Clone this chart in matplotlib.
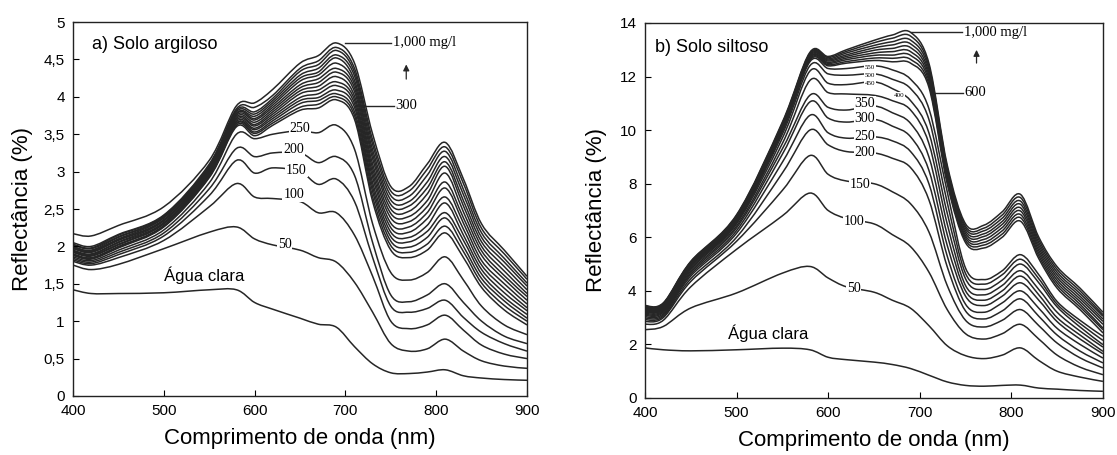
import matplotlib
matplotlib.use("Agg")
import matplotlib.pyplot as plt
from matplotlib.path import Path
from matplotlib.patches import PathPatch
from matplotlib.ticker import FuncFormatter

plt.rcParams["font.family"] = ["Liberation Sans", "DejaVu Sans"]

# comprimento de onda (nm), comum aos dois gráficos
wavelength = [400, 420, 450, 500, 550, 580, 600, 620, 650, 670, 690,
              710, 730, 750, 770, 790, 810, 830, 850, 875, 900]

# ---- a) solo argiloso: reflectância (%) por concentração (mg/l)
arg_agua = [1.42, 1.37, 1.37, 1.38, 1.42, 1.42, 1.25, 1.16, 1.04, 0.96, 0.92,
            0.66, 0.43, 0.31, 0.30, 0.32, 0.35, 0.27, 0.24, 0.22, 0.21]
arg_50 = [1.75, 1.69, 1.76, 1.97, 2.19, 2.26, 2.10, 2.02, 1.95, 1.85, 1.79,
          1.52, 1.12, 0.70, 0.60, 0.63, 0.76, 0.60, 0.47, 0.40, 0.37]
arg_100 = [1.80, 1.75, 1.85, 2.08, 2.53, 2.84, 2.66, 2.64, 2.60, 2.45, 2.45,
           2.15, 1.60, 1.00, 0.90, 0.95, 1.08, 0.88, 0.68, 0.56, 0.50]
arg_150 = [1.82, 1.77, 1.89, 2.14, 2.68, 3.15, 2.98, 3.05, 3.00, 2.83, 2.90,
           2.60, 1.85, 1.20, 1.12, 1.17, 1.28, 1.05, 0.85, 0.70, 0.60]
arg_200 = [1.84, 1.79, 1.92, 2.18, 2.77, 3.31, 3.20, 3.25, 3.25, 3.12, 3.20,
           2.95, 2.05, 1.35, 1.26, 1.35, 1.50, 1.25, 1.00, 0.80, 0.70]
arg_250 = [1.86, 1.81, 1.95, 2.22, 2.85, 3.50, 3.44, 3.50, 3.55, 3.52, 3.62,
           3.30, 2.30, 1.65, 1.55, 1.65, 1.86, 1.55, 1.20, 0.95, 0.82]
arg_300 = [1.88, 1.83, 1.98, 2.26, 2.92, 3.60, 3.48, 3.62, 3.82, 3.85, 3.96,
           3.70, 2.60, 1.95, 1.85, 1.95, 2.18, 1.85, 1.45, 1.15, 0.95]
arg_350 = [1.89, 1.84, 1.99, 2.27, 2.93, 3.62, 3.51, 3.65, 3.86, 3.90, 4.00,
           3.75, 2.66, 2.01, 1.92, 2.03, 2.27, 1.93, 1.51, 1.21, 1.00]
arg_400 = [1.90, 1.85, 2.00, 2.28, 2.95, 3.64, 3.53, 3.68, 3.91, 3.95, 4.04,
           3.80, 2.73, 2.07, 1.99, 2.12, 2.38, 2.00, 1.57, 1.27, 1.04]
arg_450 = [1.92, 1.87, 2.02, 2.30, 2.96, 3.65, 3.56, 3.71, 3.95, 3.99, 4.09,
           3.86, 2.79, 2.13, 2.06, 2.20, 2.45, 2.08, 1.63, 1.32, 1.09]
arg_500 = [1.93, 1.88, 2.03, 2.31, 2.97, 3.67, 3.58, 3.74, 3.99, 4.04, 4.15,
           3.91, 2.85, 2.19, 2.12, 2.28, 2.58, 2.15, 1.69, 1.38, 1.14]
arg_550 = [1.94, 1.89, 2.05, 2.32, 2.99, 3.69, 3.61, 3.77, 4.04, 4.09, 4.20,
           3.96, 2.92, 2.25, 2.19, 2.37, 2.66, 2.23, 1.75, 1.44, 1.18]
arg_600 = [1.95, 1.90, 2.06, 2.34, 3.00, 3.71, 3.63, 3.80, 4.08, 4.14, 4.27,
           4.01, 2.98, 2.31, 2.26, 2.45, 2.78, 2.31, 1.81, 1.50, 1.23]
arg_650 = [1.97, 1.92, 2.08, 2.35, 3.02, 3.73, 3.66, 3.83, 4.12, 4.19, 4.33,
           4.07, 3.04, 2.38, 2.33, 2.53, 2.86, 2.38, 1.88, 1.56, 1.28]
arg_700 = [1.98, 1.93, 2.09, 2.36, 3.03, 3.75, 3.69, 3.86, 4.16, 4.24, 4.38,
           4.12, 3.10, 2.44, 2.40, 2.61, 2.98, 2.46, 1.94, 1.61, 1.33]
arg_750 = [1.99, 1.94, 2.10, 2.38, 3.04, 3.77, 3.71, 3.89, 4.21, 4.29, 4.45,
           4.17, 3.17, 2.50, 2.47, 2.70, 3.07, 2.54, 2.00, 1.67, 1.37]
arg_800 = [2.00, 1.95, 2.12, 2.39, 3.06, 3.78, 3.74, 3.92, 4.25, 4.33, 4.52,
           4.22, 3.23, 2.56, 2.54, 2.78, 3.13, 2.61, 2.06, 1.73, 1.42]
arg_850 = [2.02, 1.97, 2.13, 2.40, 3.07, 3.80, 3.77, 3.95, 4.29, 4.38, 4.56,
           4.28, 3.29, 2.62, 2.60, 2.86, 3.20, 2.69, 2.12, 1.79, 1.47]
arg_900 = [2.03, 1.98, 2.15, 2.41, 3.08, 3.82, 3.80, 3.98, 4.34, 4.43, 4.62,
           4.33, 3.36, 2.68, 2.67, 2.95, 3.27, 2.76, 2.18, 1.84, 1.51]
arg_950 = [2.05, 2.00, 2.16, 2.42, 3.10, 3.84, 3.86, 4.02, 4.38, 4.48, 4.66,
           4.38, 3.42, 2.74, 2.74, 3.03, 3.33, 2.84, 2.24, 1.90, 1.56]
arg_1000 = [2.17, 2.14, 2.28, 2.53, 3.15, 3.88, 3.92, 4.10, 4.45, 4.55, 4.72,
            4.45, 3.50, 2.80, 2.80, 3.10, 3.39, 2.90, 2.30, 1.95, 1.60]

# ---- b) solo siltoso
sil_agua = [1.87, 1.80, 1.76, 1.80, 1.86, 1.80, 1.52, 1.43, 1.34, 1.25, 1.10,
            0.85, 0.60, 0.47, 0.44, 0.47, 0.48, 0.37, 0.33, 0.28, 0.25]
sil_50 = [2.55, 2.67, 3.36, 3.92, 4.66, 4.91, 4.48, 4.15, 3.95, 3.65, 3.35,
          2.70, 1.95, 1.58, 1.47, 1.60, 1.87, 1.40, 1.00, 0.78, 0.62]
sil_100 = [2.75, 2.90, 4.15, 5.55, 6.80, 7.65, 7.00, 6.70, 6.50, 6.10, 5.65,
           4.70, 3.30, 2.40, 2.20, 2.40, 2.75, 2.20, 1.60, 1.15, 0.87]
sil_150 = [2.85, 3.00, 4.35, 5.85, 7.75, 9.05, 8.35, 8.10, 8.00, 7.70, 7.25,
           6.20, 4.20, 2.90, 2.65, 2.90, 3.30, 2.70, 2.05, 1.50, 1.12]
sil_200 = [2.92, 3.05, 4.45, 6.00, 8.40, 10.00, 9.45, 9.20, 9.15, 8.95, 8.60,
           7.40, 4.90, 3.25, 2.95, 3.25, 3.70, 3.05, 2.35, 1.75, 1.31]
sil_250 = [2.98, 3.10, 4.55, 6.15, 8.80, 10.55, 9.90, 9.70, 9.75, 9.60, 9.20,
           8.00, 5.30, 3.50, 3.20, 3.55, 4.00, 3.35, 2.60, 2.00, 1.49]
sil_300 = [3.03, 3.15, 4.62, 6.25, 9.10, 11.05, 10.45, 10.30, 10.40, 10.15, 9.75,
           8.50, 5.70, 3.80, 3.45, 3.80, 4.30, 3.65, 2.85, 2.20, 1.65]
sil_350 = [3.08, 3.20, 4.68, 6.35, 9.30, 11.30, 10.85, 10.75, 10.90, 10.65, 10.25,
           9.00, 6.10, 4.00, 3.65, 4.00, 4.55, 3.85, 3.00, 2.35, 1.74]
sil_400 = [3.12, 3.24, 4.74, 6.42, 9.50, 11.85, 11.40, 11.35, 11.30, 11.10, 10.75,
           9.50, 6.50, 4.20, 3.85, 4.20, 4.75, 4.05, 3.20, 2.50, 1.90]
sil_450 = [3.16, 3.28, 4.80, 6.50, 9.70, 12.20, 11.75, 11.70, 11.80, 11.55, 11.10,
           9.90, 6.90, 4.45, 4.05, 4.40, 5.00, 4.30, 3.40, 2.65, 1.99]
sil_500 = [3.20, 3.32, 4.85, 6.55, 9.85, 12.40, 12.10, 12.05, 12.10, 11.90, 11.55,
           10.40, 7.30, 4.65, 4.25, 4.60, 5.18, 4.45, 3.50, 2.78, 2.15]
sil_550 = [3.23, 3.35, 4.90, 6.58, 9.95, 12.55, 12.30, 12.30, 12.40, 12.25, 11.90,
           10.80, 7.70, 4.85, 4.42, 4.75, 5.35, 4.60, 3.60, 2.90, 2.30]
sil_600 = [3.26, 3.38, 4.93, 6.62, 10.00, 12.60, 12.40, 12.50, 12.60, 12.55, 12.50,
           11.60, 8.00, 5.80, 5.60, 6.00, 6.60, 5.20, 4.10, 3.30, 2.43]
sil_650 = [3.28, 3.40, 4.95, 6.65, 10.04, 12.64, 12.44, 12.56, 12.69, 12.68, 12.64,
           11.71, 8.09, 5.89, 5.71, 6.12, 6.73, 5.30, 4.20, 3.40, 2.55]
sil_700 = [3.31, 3.42, 4.97, 6.68, 10.08, 12.68, 12.49, 12.63, 12.79, 12.80, 12.79,
           11.83, 8.18, 5.98, 5.81, 6.24, 6.85, 5.40, 4.30, 3.50, 2.61]
sil_750 = [3.33, 3.44, 4.99, 6.70, 10.11, 12.71, 12.53, 12.69, 12.88, 12.93, 12.93,
           11.94, 8.26, 6.06, 5.92, 6.36, 6.98, 5.50, 4.40, 3.60, 2.75]
sil_800 = [3.36, 3.47, 5.02, 6.73, 10.15, 12.75, 12.58, 12.75, 12.98, 13.05, 13.08,
           12.05, 8.35, 6.15, 6.03, 6.48, 7.10, 5.60, 4.50, 3.70, 2.86]
sil_850 = [3.38, 3.49, 5.04, 6.76, 10.19, 12.79, 12.62, 12.81, 13.07, 13.18, 13.22,
           12.16, 8.44, 6.24, 6.13, 6.59, 7.23, 5.70, 4.60, 3.80, 2.95]
sil_900 = [3.40, 3.51, 5.06, 6.79, 10.23, 12.83, 12.66, 12.88, 13.16, 13.30, 13.36,
           12.28, 8.53, 6.33, 6.24, 6.71, 7.35, 5.80, 4.70, 3.90, 3.05]
sil_950 = [3.43, 3.53, 5.08, 6.81, 10.26, 12.86, 12.71, 12.94, 13.26, 13.43, 13.51,
           12.39, 8.61, 6.41, 6.34, 6.83, 7.48, 5.90, 4.80, 4.00, 3.11]
sil_1000 = [3.45, 3.55, 5.10, 6.84, 10.30, 12.90, 12.75, 13.00, 13.35, 13.55, 13.65,
            12.50, 8.70, 6.50, 6.45, 6.95, 7.60, 6.00, 4.90, 4.10, 3.20]

arg_curves = [arg_agua, arg_50, arg_100, arg_150, arg_200, arg_250, arg_300,
              arg_350, arg_400, arg_450, arg_500, arg_550, arg_600, arg_650,
              arg_700, arg_750, arg_800, arg_850, arg_900, arg_950, arg_1000]
sil_curves = [sil_agua, sil_50, sil_100, sil_150, sil_200, sil_250, sil_300,
              sil_350, sil_400, sil_450, sil_500, sil_550, sil_600, sil_650,
              sil_700, sil_750, sil_800, sil_850, sil_900, sil_950, sil_1000]

# rótulos sobre as curvas: (texto, x, y, tamanho)
arg_labels = [("250", 650, 3.58, 10), ("200", 643, 3.29, 10), ("150", 646, 3.02, 10),
              ("100", 643, 2.69, 10), ("50", 633, 2.02, 10)]
sil_labels = [("550", 646, 12.35, 5), ("500", 646, 12.05, 5), ("450", 646, 11.75, 5),
              ("400", 677, 11.3, 5), ("350", 640, 11.0, 10), ("300", 640, 10.45, 10),
              ("250", 640, 9.75, 10), ("200", 640, 9.15, 10), ("150", 635, 7.96, 10),
              ("100", 628, 6.6, 10), ("50", 628, 4.1, 10)]

LINE = "#262626"
SERIF = ["Liberation Serif", "DejaVu Serif"]


def comma(v, pos):
    return f"{v:g}".replace(".", ",")


def smooth_path(x, y):
    # curva suave (Catmull-Rom -> Bezier) passando pelos pontos lidos
    n = len(x)
    verts = [(x[0], y[0])]
    codes = [Path.MOVETO]
    for i in range(n - 1):
        a = max(i - 1, 0)
        d = min(i + 2, n - 1)
        c1 = (x[i] + (x[i + 1] - x[a]) / 6, y[i] + (y[i + 1] - y[a]) / 6)
        c2 = (x[i + 1] - (x[d] - x[i]) / 6, y[i + 1] - (y[d] - y[i]) / 6)
        verts += [c1, c2, (x[i + 1], y[i + 1])]
        codes += [Path.CURVE4] * 3
    return Path(verts, codes)


def draw_panel(ax, curves, ymax, ystep, title, water_xy, title_xy, labels,
               top_lead, low_lead, low_text, arrow):
    for c in curves:
        ax.add_patch(PathPatch(smooth_path(wavelength, c), fill=False,
                               edgecolor=LINE, lw=1.1))
    ax.set_xlim(400, 900)
    ax.set_ylim(0, ymax)
    ax.set_xticks(range(400, 901, 100))
    ticks = [i * ystep for i in range(int(round(ymax / ystep)) + 1)]
    ax.set_yticks(ticks)
    ax.yaxis.set_major_formatter(FuncFormatter(comma))
    ax.tick_params(direction="in", length=4, width=0.8, labelsize=11, pad=6)
    for s in ax.spines.values():
        s.set_linewidth(1.0)
        s.set_color("#222222")
    ax.set_xlabel("Comprimento de onda (nm)", fontsize=16)
    ax.set_ylabel("Reflectância (%)", fontsize=16)

    ax.text(title_xy[0], title_xy[1], title, fontsize=13, va="center")
    ax.text(water_xy[0], water_xy[1], "Água clara", fontsize=12, ha="center",
            va="center")
    for txt, x, y, fs in labels:
        ax.text(x, y, txt, family=SERIF, fontsize=fs, ha="center", va="center",
                bbox=dict(fc="white", ec="none", pad=0.6))

    # linha-guia para 1,000 mg/l e para a curva mais baixa do feixe
    (x0, x1, y) = top_lead
    ax.plot([x0, x1], [y, y], color=LINE, lw=1.0)
    ax.text(x1 + 2, y, "1,000 mg/l", family=SERIF, fontsize=10.5, va="center")
    (x0, x1, y) = low_lead
    ax.plot([x0, x1], [y, y], color=LINE, lw=1.0)
    ax.text(x1 + 2, y, low_text, family=SERIF, fontsize=10.5, va="center")
    (xa, ya0, ya1) = arrow
    ax.annotate("", xy=(xa, ya1), xytext=(xa, ya0),
                arrowprops=dict(arrowstyle="-|>", color=LINE, lw=0.9,
                                mutation_scale=9))


fig = plt.figure(figsize=(11.17, 4.55), dpi=100)
ax1 = fig.add_axes([0.0654, 0.1297, 0.4064, 0.8219])
ax2 = fig.add_axes([0.5774, 0.1253, 0.4100, 0.8242])

draw_panel(ax1, arg_curves, 5, 0.5, "a) Solo argiloso", (544, 1.62), (421, 4.7),
           arg_labels, (700, 750, 4.72), (722, 753, 3.88), "300", (767, 4.2, 4.47))
draw_panel(ax2, sil_curves, 14, 2, "b) Solo siltoso", (535, 2.43), (411, 13.1),
           sil_labels, (690, 746, 13.65), (716, 747, 11.4), "600", (762, 12.4, 13.1))

ax1.xaxis.set_label_coords(0.5, -0.085)
ax2.xaxis.set_label_coords(0.5, -0.085)
ax1.yaxis.set_label_coords(-0.088, 0.5)
ax2.yaxis.set_label_coords(-0.083, 0.5)

fig.savefig("out.png", dpi=100)
